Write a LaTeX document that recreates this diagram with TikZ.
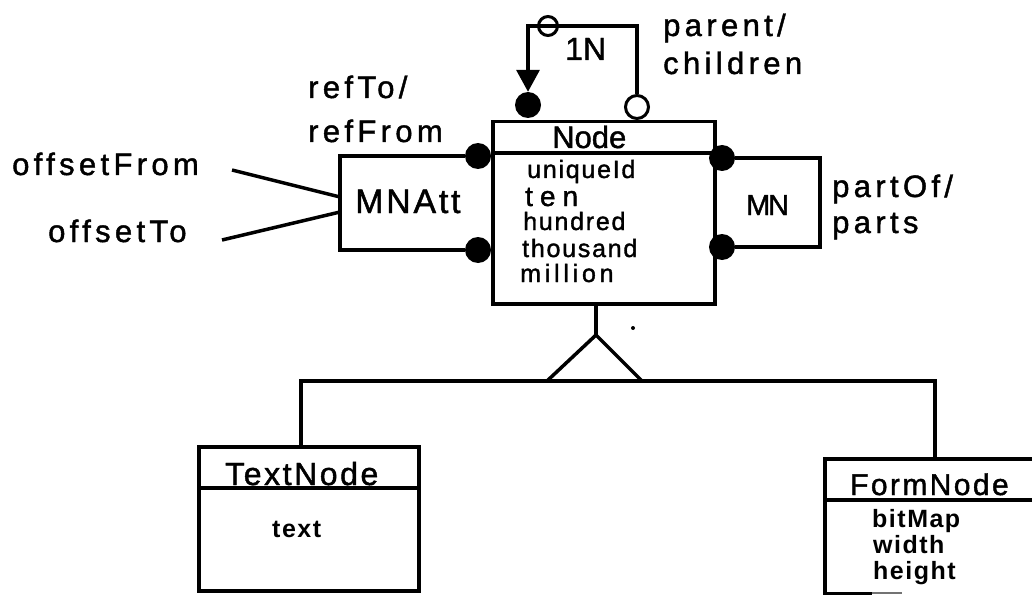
\documentclass[tikz,border=0pt]{standalone}
\usepackage{fontspec}
\setmainfont{Liberation Sans}
% Families for the different trackings used in the chart; a slight embolden
% gives the strokes the weight of the printed lettering.
\newfontfamily\lab[LetterSpace=14, FakeBold=1.4]{Liberation Sans}
\newfontfamily\att[LetterSpace=7, FakeBold=1.4]{Liberation Sans}
\newfontfamily\attm[LetterSpace=15, FakeBold=1.4]{Liberation Sans}
\newfontfamily\attt[LetterSpace=25, FakeBold=1.4]{Liberation Sans}
\newfontfamily\tightf[LetterSpace=-8, FakeBold=1.4]{Liberation Sans}
\newfontfamily\plainf[FakeBold=1.4]{Liberation Sans}
\newfontfamily\slight[LetterSpace=8, FakeBold=1.4]{Liberation Sans}
\newfontfamily\battrfont[LetterSpace=6]{Liberation Sans Bold}
\usetikzlibrary{arrows.meta}

\tikzset{
  classbox/.style={draw, rectangle, inner sep=0pt, anchor=north west, line width=3.5pt},
  openbox/.style={rectangle, inner sep=0pt, anchor=north west},
  txt/.style={anchor=base west, inner sep=0pt},
  lbl/.style={txt, font=\lab\fontsize{31}{31}\selectfont},
  attr/.style={txt, font=\att\fontsize{25}{25}\selectfont},
  battr/.style={txt, font=\battrfont\fontsize{25}{25}\selectfont},
  title/.style={txt, font=\plainf\fontsize{31}{31}\selectfont},
  filled/.style={circle, fill=black, inner sep=0pt, minimum size=26pt},
  hollow/.style={circle, draw, fill=white, inner sep=0pt, minimum size=23pt, line width=3pt},
  ring/.style={circle, draw, inner sep=0pt, minimum size=19pt, line width=3pt},
  link/.style={line width=3.5pt},
}

\begin{document}
\begin{tikzpicture}[x=1pt, y=-1pt]
\useasboundingbox (0,0) rectangle (1032,604);

% ---------- class Node ----------
\node[classbox, minimum width=222pt, minimum height=182pt] (node) at (491,120) {};
\draw[link] (491,153) -- (713,153);
\node[title] (nodeTitle) at (552,148) {Node};
\node[attr] (aUid)  at (527,178) {uniqueId};
\node[txt, font=\attt\fontsize{28}{28}\selectfont] (aTen) at (525,206) {ten};
\node[attr] (aHun)  at (523,230) {hundred};
\node[attr] (aTho)  at (522,257) {thousand};
\node[txt, font=\attm\fontsize{25}{25}\selectfont] (aMil) at (520,282) {million};

% ---------- recursive 1:N relation (parent/children) ----------
\coordinate (loopL) at (528,26);
\coordinate (loopR) at (637,26);
\node[filled] (selfA) at (528,105) {};
\node[hollow] (selfB) at (637,107) {};
\draw[link, -{Triangle[length=22pt, width=23pt]}] (selfB) -- (loopR) -- (loopL) -- (selfA);
\node[ring] (oneMark) at (548,26) {};
\node[txt, font=\plainf\fontsize{32}{32}\selectfont] (card) at (565,60) {1N};
\node[lbl] (parentLbl) at (663,36) {parent/};
\node[lbl] (childLbl)  at (663,74) {children};

% ---------- MNAtt relation (refTo/refFrom) ----------
\node[filled] (mnaA) at (478,156) {};
\node[filled] (mnaB) at (478,250) {};
\coordinate (mnaTL) at (340,156);
\coordinate (mnaBL) at (340,250);
\draw[link] (mnaA) -- (mnaTL) -- (mnaBL) -- (mnaB);
\node[txt, font=\slight\fontsize{34}{34}\selectfont] (mnatt) at (355,213) {MNAtt};
\node[lbl] (refToLbl)   at (308,98)  {refTo/};
\node[lbl] (refFromLbl) at (308,142) {refFrom};

\node[lbl] (offFromLbl) at (12,175) {offsetFrom};
\node[lbl] (offToLbl)   at (48,242) {offsetTo};
\coordinate (offFromEnd) at (232,170);
\coordinate (offToEnd)   at (222,240);
\coordinate (mnaIn1) at (340,197);
\coordinate (mnaIn2) at (340,212);
\draw[link] (offFromEnd) -- (mnaIn1);
\draw[link] (offToEnd) -- (mnaIn2);

% ---------- MN relation (partOf/parts) ----------
\node[filled] (mnA) at (722,158) {};
\node[filled] (mnB) at (722,247) {};
\coordinate (mnTR) at (820,158);
\coordinate (mnBR) at (820,247);
\draw[link] (mnA) -- (mnTR) -- (mnBR) -- (mnB);
\node[txt, font=\tightf\fontsize{29}{29}\selectfont] (mn) at (746,215) {MN};
\node[lbl] (partOfLbl) at (832,197) {partOf/};
\node[lbl] (partsLbl)  at (832,233) {parts};

% ---------- generalisation ----------
\coordinate (isaTop) at (596,335);
\coordinate (isaL) at (547,381);
\coordinate (isaR) at (642,381);
\coordinate (busL) at (301,381);
\coordinate (busR) at (935,381);
\draw[link] (node.south -| isaTop) -- (isaTop);
\draw[link, line join=miter] (isaTop) -- (isaL) -- (isaR) -- cycle;
\fill (633,328) circle (2pt);

% ---------- class TextNode ----------
\node[classbox, minimum width=220pt, minimum height=144pt] (textnode) at (197,445) {};
\draw[link] (197,488) -- (417,488);
\node[txt, font=\slight\fontsize{32}{32}\selectfont] (tnTitle) at (225,485) {TextNode};
\node[battr] (tnText) at (272,537) {text};

% ---------- class FormNode (runs past the right edge) ----------
\node[openbox, minimum width=207pt, minimum height=134pt] (formnode) at (825,459) {};
\draw[link] (formnode.north east) -- (formnode.north west) -- (formnode.south west) -- ++(47pt,0);
\draw[line width=2pt, black!55] ([xshift=47pt]formnode.south west) -- ++(30pt,0);
\draw[link] (825,500) -- (1032,500);
\node[txt, font=\slight\fontsize{30}{30}\selectfont] (fnTitle) at (850,495) {FormNode};
\node[battr] (fnBit) at (872,527) {bitMap};
\node[battr] (fnWid) at (873,553) {width};
\node[battr] (fnHei) at (873,579) {height};

\draw[link] (textnode.north -| busL) -- (busL) -- (busR) -- (formnode.north -| busR);
\end{tikzpicture}
\end{document}
